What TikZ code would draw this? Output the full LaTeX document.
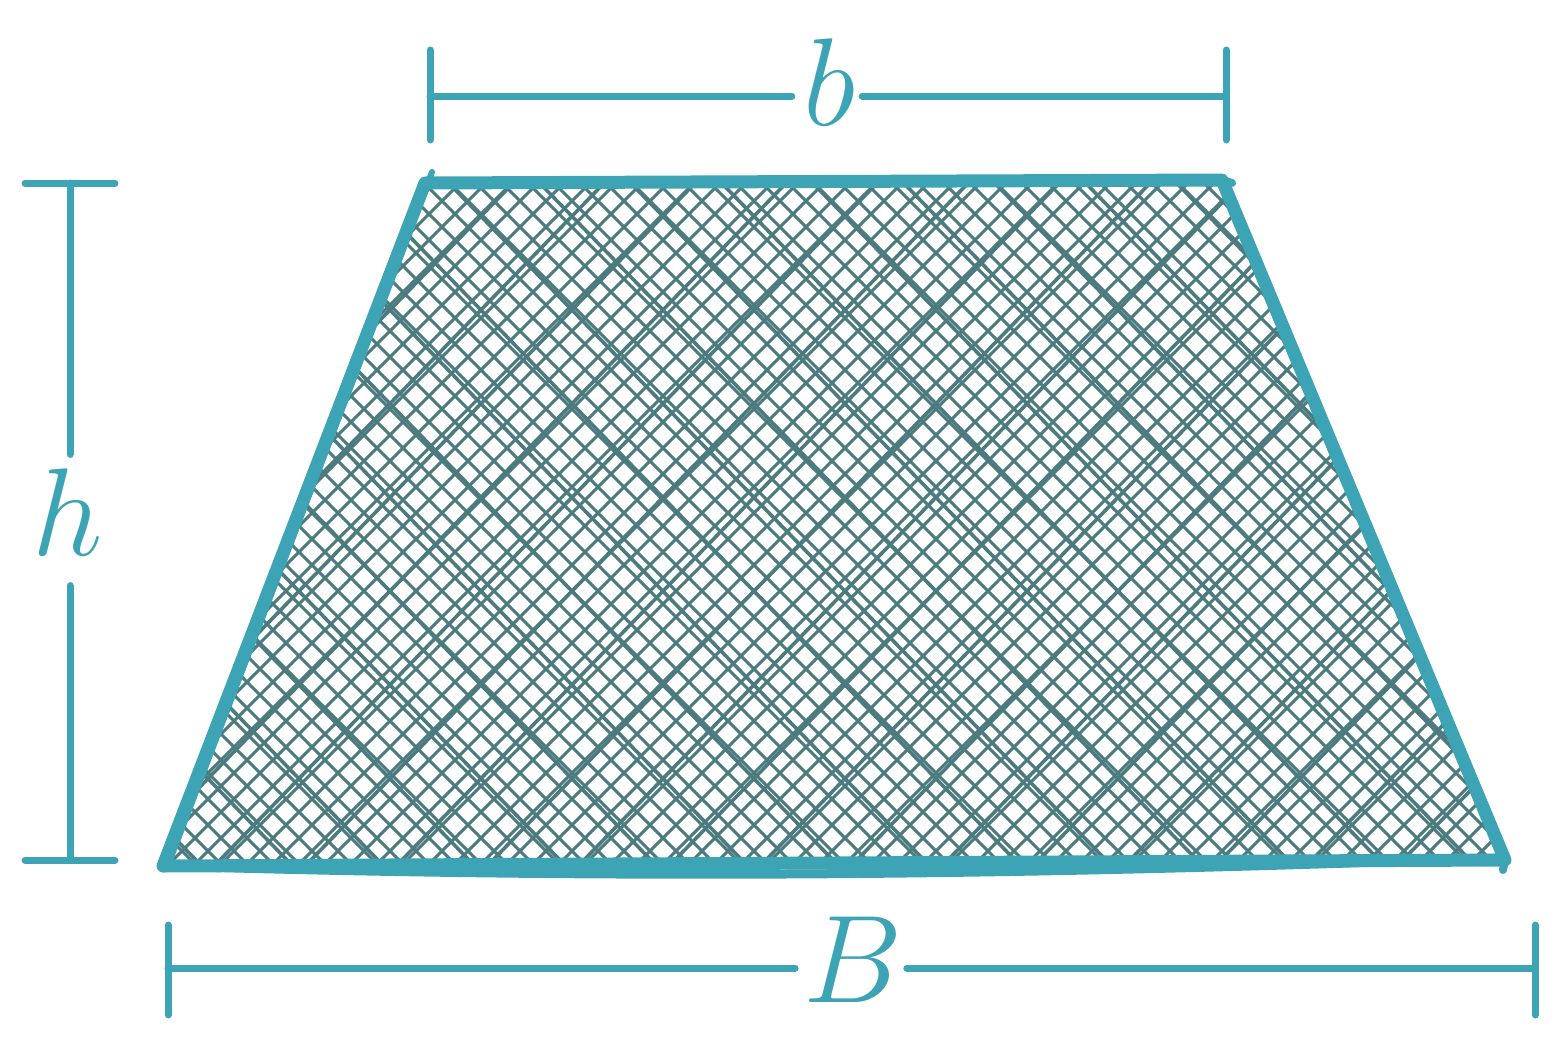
\documentclass[tikz,border=0pt]{standalone}
\usepackage{fix-cm}
\definecolor{tealc}{HTML}{3CA4B5}
\definecolor{hatch}{HTML}{4C7B7F}
\tikzset{
  outline/.style={draw=tealc, line width=13pt, line cap=round, line join=round},
  dimline/.style={draw=tealc, line width=7pt, line cap=round},
  hatchline/.style={draw=hatch, line width=3pt},
  lbl/.style={text=tealc, inner sep=0pt, font=\fontsize{125}{125}\selectfont}
}
\begin{document}
\begin{tikzpicture}[x=1pt,y=-1pt]
\useasboundingbox (0,0) rectangle (1564,1060);
% corners
\coordinate (TL) at (425,183);
\coordinate (TR) at (1222,180);
\coordinate (BR) at (1505,860);
\coordinate (BL) at (163,866);
% hatching
\begin{scope}
\clip (TL) -- (TR) -- (BR) -- (BL) -- cycle;
\foreach \i in {-50,...,50} {
  \draw[hatchline] (163+\i*26,1000) -- ++(1000,-1000);
  \draw[hatchline] (163+\i*26,0) -- ++(1000,1000);
}
\foreach \i in {-14,...,14} {
  \draw[hatchline, line width=3.6pt] (175+\i*91,1000) -- ++(1000,-1030);
  \draw[hatchline, line width=3.6pt] (180+\i*91,0) -- ++(1000,1030);
}
\end{scope}
% outline
\draw[outline] (TL) -- (TR) -- (BR) -- (BL) -- cycle;
\draw[outline, line width=6pt] (432,172) -- (170,860);
\draw[outline, line width=9pt] (163,866) .. controls (700,882) and (1100,872) .. (1500,858);
\draw[outline, line width=8pt] (1222,180) -- (1232,183);
\draw[outline, line width=8pt] (1505,860) -- (1503,870);
% b dimension
\node[lbl] (b) at (830,82) {$b$};
\coordinate (bL) at (430,96);
\coordinate (bR) at (1226,96);
\draw[dimline] (bL) -- ([xshift=-12pt]b.west |- bL);
\draw[dimline] ([xshift=6pt]b.east |- bR) -- (bR);
\draw[dimline] (430,50) -- (430,140);
\draw[dimline] (1226,50) -- (1226,140);
% B dimension
\node[lbl] (B) at (853,960) {$B$};
\coordinate (BBL) at (168,968);
\coordinate (BBR) at (1535,968);
\draw[dimline] (BBL) -- ([xshift=-8pt]B.west |- BBL);
\draw[dimline] ([xshift=4pt]B.east |- BBR) -- (BBR);
\draw[dimline] (168,925) -- (168,1015);
\draw[dimline] (1535,925) -- (1535,1015);
% h dimension
\node[lbl] (h) at (68,512) {$h$};
\coordinate (hT) at (70,183);
\coordinate (hB) at (70,860);
\draw[dimline] (hT) -- ([yshift=14pt]hT |- h.north);
\draw[dimline] ([yshift=-30pt]hB |- h.south) -- (hB);
\draw[dimline] (25,183) -- (115,183);
\draw[dimline] (25,860) -- (115,860);
\end{tikzpicture}
\end{document}
